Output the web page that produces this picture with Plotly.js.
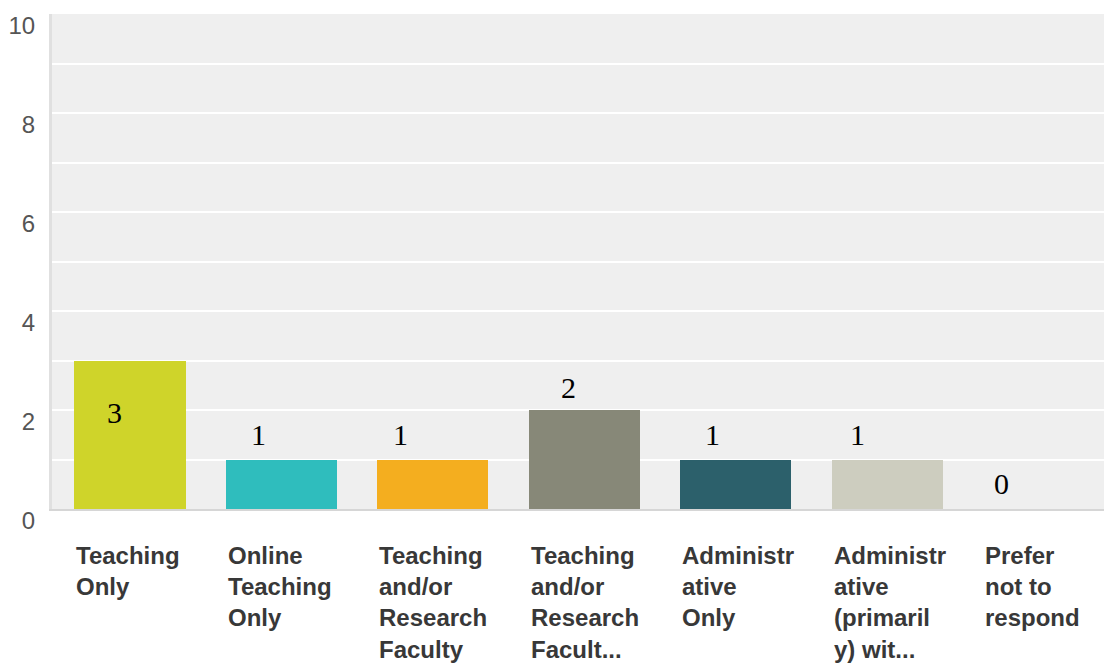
<!DOCTYPE html>
<html>
<head>
<meta charset="utf-8">
<script src="https://cdn.plot.ly/plotly-3.0.1.min.js"></script>
<style>html,body{margin:0;padding:0;background:#fff;}#chart{width:1104px;height:664px;}</style>
</head>
<body>
<div id="chart"></div>
<script>
// ---- data ----
const categories = [
  "Teaching Only",
  "Online Teaching Only",
  "Teaching and/or Research Faculty",
  "Teaching and/or Research Facult...",
  "Administrative Only",
  "Administrative (primarily) wit...",
  "Prefer not to respond"
];
const tickLabels = [
  "Teaching<br>Only",
  "Online<br>Teaching<br>Only",
  "Teaching<br>and/or<br>Research<br>Faculty",
  "Teaching<br>and/or<br>Research<br>Facult...",
  "Administr<br>ative<br>Only",
  "Administr<br>ative<br>(primaril<br>y) wit...",
  "Prefer<br>not to<br>respond"
];
const counts = [3, 1, 1, 2, 1, 1, 0];
const barColors = ["#cfd42a", "#2fbdbd", "#f4ae1f", "#878878", "#2c606b", "#cdcdbf", "#cccccc"];
const yTickValues = [0, 2, 4, 6, 8, 10];

// ---- style (label offsets in px) ----
const valueLabelShiftX = [-16, -23, -32, -16, -23, -30, -37];
const valueLabelShiftY = [-52, 25, 25, 23, 25, 25, 26];
const barWidth = 0.733;

const xIdx = categories.map((c, i) => i);

const trace = {
  type: "bar",
  x: xIdx,
  y: counts,
  width: barWidth,
  marker: { color: barColors, line: { width: 0 } },
  hoverinfo: "skip"
};

const annotations = [];
counts.forEach((v, i) => {
  annotations.push({
    x: i, y: v, xref: "x", yref: "y",
    text: String(v), showarrow: false,
    xanchor: "center", yanchor: "middle",
    xshift: valueLabelShiftX[i], yshift: valueLabelShiftY[i],
    font: { family: "Liberation Serif, Times New Roman, serif", size: 30, color: "#000" }
  });
  annotations.push({
    x: i - barWidth / 2, y: 0, xref: "x", yref: "paper",
    text: tickLabels[i], showarrow: false,
    xanchor: "left", yanchor: "top", align: "left",
    yshift: -31,
    font: { family: "Liberation Sans, Arial, sans-serif", size: 24, color: "#383838", weight: "bold" }
  });
});

const allTicks = [0,1,2,3,4,5,6,7,8,9,10];

const layout = {
  width: 1104, height: 664,
  margin: { l: 52, r: 0, t: 14, b: 155 },
  paper_bgcolor: "#ffffff",
  plot_bgcolor: "#efefef",
  showlegend: false,
  bargap: 0,
  xaxis: {
    type: "linear",
    range: [-0.515, 6.43],
    showticklabels: false,
    showgrid: false,
    zeroline: false,
    showline: true, linecolor: "#d6d6d6", linewidth: 2,
    ticks: "", fixedrange: true
  },
  yaxis: {
    range: [0, 10],
    tickmode: "array",
    tickvals: allTicks,
    ticktext: allTicks.map(v => yTickValues.includes(v) ? String(v) : ""),
    showgrid: true, gridcolor: "#ffffff", gridwidth: 2,
    zeroline: false,
    showline: true, linecolor: "#e0e0e0", linewidth: 3,
    ticks: "",
    ticklabelstandoff: 9,
    ticklabelshift: 12,
    tickfont: { family: "Liberation Sans, Arial, sans-serif", size: 24, color: "#555555" },
    fixedrange: true
  },
  annotations: annotations
};

Plotly.newPlot("chart", [trace], layout, { displayModeBar: false, staticPlot: true });
</script>
</body>
</html>
